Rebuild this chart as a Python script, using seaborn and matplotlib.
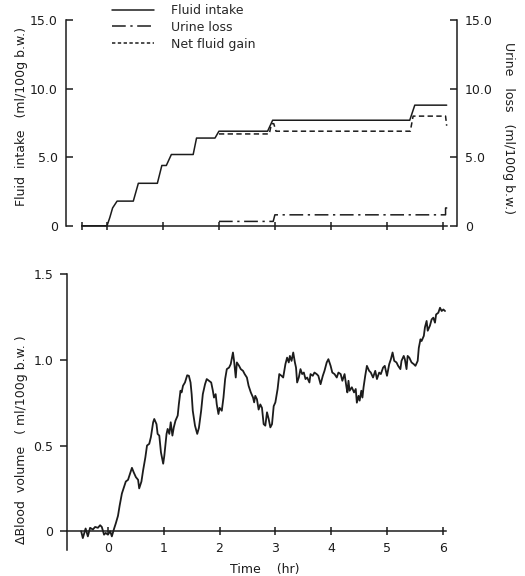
import matplotlib
matplotlib.use("Agg")
import matplotlib.pyplot as plt
import seaborn as sns
from matplotlib.lines import Line2D
from matplotlib.ticker import FuncFormatter

# --- top panel: cumulative fluid balance (ml/100g b.w.) ---
intake_time = [-0.45, 0.0, 0.05, 0.1, 0.18, 0.47, 0.56, 0.9, 0.98, 1.06, 1.15, 1.54, 1.6,
               1.93, 2.0, 2.87, 2.96, 5.41, 5.5, 6.07]
intake_value = [0, 0, 0.6, 1.3, 1.8, 1.8, 3.1, 3.1, 4.4, 4.4, 5.2, 5.2, 6.4,
                6.4, 6.9, 6.9, 7.7, 7.7, 8.8, 8.8]

gain_time = [2.0, 2.9, 2.94, 2.98, 3.02, 5.42, 5.47, 6.05, 6.07]
gain_value = [6.7, 6.7, 7.45, 7.45, 6.9, 6.9, 8.0, 8.0, 7.3]

urine_time = [2.0, 2.97, 3.0, 6.05, 6.05, 6.08]
urine_value = [0.32, 0.32, 0.8, 0.8, 1.3, 1.3]

# --- bottom panel: change in blood volume ---
bv_time = [-0.48, -0.45, -0.40, -0.36, -0.32, -0.27, -0.23, -0.18, -0.14, -0.11, -0.07, -0.04,
           0.0, 0.04, 0.07, 0.11, 0.14, 0.18, 0.21, 0.25, 0.29, 0.32, 0.36, 0.39, 0.43, 0.46,
           0.50, 0.54, 0.56, 0.60, 0.63, 0.67, 0.70, 0.74, 0.77, 0.81, 0.83, 0.87, 0.89, 0.92,
           0.95, 0.99, 1.01, 1.05,
           1.07, 1.10, 1.125, 1.155, 1.18, 1.21, 1.25, 1.27, 1.30, 1.32, 1.345, 1.38, 1.42,
           1.45, 1.48, 1.50, 1.52, 1.56, 1.60, 1.63, 1.67, 1.70, 1.74, 1.77, 1.81, 1.85, 1.88,
           1.90, 1.93, 1.95, 1.98, 2.0, 2.04, 2.07, 2.10, 2.13, 2.17, 2.2, 2.24, 2.26, 2.29,
           2.31, 2.35, 2.38, 2.42, 2.45, 2.49, 2.52, 2.56, 2.60, 2.62,
           2.64, 2.67, 2.70, 2.73, 2.76, 2.79, 2.82, 2.85, 2.88, 2.91, 2.94, 2.97, 3.0, 3.04,
           3.07, 3.11, 3.14, 3.18, 3.21, 3.24, 3.26, 3.29, 3.32, 3.35, 3.37, 3.39, 3.42, 3.45,
           3.48, 3.51, 3.54, 3.57, 3.61, 3.63, 3.67, 3.70, 3.74, 3.77, 3.81, 3.85, 3.88, 3.92,
           3.95, 3.99, 4.02, 4.06, 4.10, 4.13, 4.17, 4.2, 4.24,
           4.27, 4.29, 4.31, 4.33, 4.37, 4.41, 4.44, 4.46, 4.49, 4.51, 4.54, 4.56, 4.58, 4.61,
           4.64, 4.68, 4.71, 4.75, 4.79, 4.82, 4.86, 4.89, 4.93, 4.96, 5.0, 5.04, 5.07, 5.10,
           5.13, 5.17, 5.2, 5.24, 5.26, 5.30, 5.32, 5.35, 5.37, 5.40, 5.44, 5.48, 5.51, 5.55,
           5.57, 5.6, 5.62, 5.66, 5.68, 5.71, 5.73, 5.77, 5.80, 5.83, 5.86, 5.88, 5.92, 5.95,
           5.98, 6.01, 6.04]
bv_value = [0.0, -0.04, 0.016, -0.03, 0.02, 0.01, 0.025, 0.02, 0.035, 0.025, -0.02, -0.01,
            -0.02, 0.0, -0.03, 0.015, 0.045, 0.09, 0.15, 0.22, 0.26, 0.29, 0.30, 0.33, 0.37, 0.345,
            0.316, 0.30, 0.25, 0.29, 0.355, 0.43, 0.50, 0.51, 0.55, 0.636, 0.655, 0.625, 0.568, 0.558,
            0.46, 0.394, 0.44, 0.568,
            0.597, 0.568, 0.636, 0.558, 0.606, 0.645, 0.675, 0.74, 0.82, 0.81, 0.849, 0.868, 0.91,
            0.907, 0.868, 0.8, 0.703, 0.616, 0.568, 0.603, 0.703, 0.8, 0.858, 0.888, 0.878, 0.868, 0.82,
            0.78, 0.8, 0.74, 0.684, 0.72, 0.703, 0.78, 0.888, 0.946, 0.955, 0.975, 1.043, 0.994, 0.897,
            0.985, 0.965, 0.946, 0.936, 0.917, 0.897, 0.849, 0.81, 0.78, 0.752,
            0.79, 0.77, 0.71, 0.74, 0.72, 0.625, 0.616, 0.694, 0.655, 0.606, 0.625, 0.73, 0.752, 0.83,
            0.917, 0.907, 0.897, 0.975, 1.013, 0.985, 1.023, 0.994, 1.043, 0.985, 0.955, 0.868, 0.897, 0.946,
            0.917, 0.926, 0.888, 0.897, 0.868, 0.917, 0.907, 0.926, 0.917, 0.907, 0.858, 0.907, 0.936, 0.985,
            1.004, 0.965, 0.926, 0.917, 0.897, 0.926, 0.917, 0.878, 0.917,
            0.849, 0.81, 0.878, 0.82, 0.84, 0.81, 0.83, 0.75, 0.79, 0.762, 0.82, 0.78, 0.84, 0.907,
            0.965, 0.936, 0.926, 0.897, 0.936, 0.888, 0.926, 0.917, 0.955, 0.965, 0.907, 0.975, 1.004, 1.043,
            0.994, 0.985, 0.965, 0.946, 0.994, 1.023, 1.004, 0.946, 1.023, 1.013, 0.985, 0.975, 0.965, 0.994,
            1.07, 1.12, 1.11, 1.14, 1.19, 1.227, 1.17, 1.2, 1.236, 1.246, 1.217, 1.265, 1.275, 1.304,
            1.285, 1.294, 1.285]

hour_ticks = [0, 1, 2, 3, 4, 5, 6]

sns.set_style("white")
plt.rcParams['font.family'] = ['DejaVu Sans']
plt.rcParams['font.size'] = 9

INK = '#1c1c1c'
LW = 1.1
DASHED = (0, (3.5, 2.2))
DASHDOT = (0, (9, 3, 1.5, 3))

fig = plt.figure(figsize=(5.25, 5.76), dpi=100)
ax_top = fig.add_axes([0.126, 0.608, 0.744, 0.357])
ax_bot = fig.add_axes([0.128, 0.045, 0.742, 0.479])
XLIM = (-0.73, 6.25)


def zero_fmt(v, pos):
    return '0' if abs(v) < 1e-9 else f'{v:.1f}'


# top panel
sns.lineplot(x=intake_time, y=intake_value, ax=ax_top, color=INK, lw=LW,
             estimator=None, sort=False, legend=False)
sns.lineplot(x=gain_time, y=gain_value, ax=ax_top, color=INK, lw=LW,
             estimator=None, sort=False, legend=False)
ax_top.lines[-1].set_linestyle(DASHED)
for ln in ax_top.lines:
    ln.set_clip_on(False)

ax_r = ax_top.twinx()
sns.lineplot(x=urine_time, y=urine_value, ax=ax_r, color=INK, lw=LW,
             estimator=None, sort=False, legend=False)
ax_r.lines[-1].set_linestyle(DASHDOT)

for a in (ax_top, ax_r):
    a.set_xlim(*XLIM)
    a.set_ylim(0, 15)
    a.set_xlabel('')
    a.set_ylabel('')
    a.patch.set_visible(False)
    for s in a.spines.values():
        s.set_color(INK)
        s.set_linewidth(1.1)

ax_top.spines['top'].set_visible(False)
ax_top.spines['right'].set_visible(False)
ax_top.spines['bottom'].set_bounds(-0.45, 6.07)
ax_top.set_xticks([-0.45] + hour_ticks)
ax_top.tick_params(axis='x', direction='inout', length=6, width=1.1, colors=INK,
                   bottom=True, labelbottom=False)
ax_top.set_yticks([0, 5, 10, 15])
ax_top.yaxis.set_major_formatter(FuncFormatter(zero_fmt))
ax_top.tick_params(axis='y', direction='in', length=5, width=1.1, colors=INK,
                   labelsize=9, pad=6, left=True)

for side in ('top', 'left', 'bottom'):
    ax_r.spines[side].set_visible(False)
ax_r.set_yticks([0, 5, 10, 15])
ax_r.yaxis.set_major_formatter(FuncFormatter(zero_fmt))
ax_r.tick_params(axis='y', direction='in', length=5, width=1.1, colors=INK,
                 labelsize=9, pad=6, right=True)
ax_r.tick_params(axis='x', bottom=False, labelbottom=False)

handles = [Line2D([], [], color=INK, lw=LW),
           Line2D([], [], color=INK, lw=LW, linestyle=DASHDOT),
           Line2D([], [], color=INK, lw=LW, linestyle=(0, (2.2, 1.6)))]
fig.legend(handles, ['Fluid intake', 'Urine loss', 'Net fluid gain'],
           loc='upper left', bbox_to_anchor=(0.213, 0.993), frameon=False,
           fontsize=9, handlelength=3.4, handletextpad=1.3, labelspacing=0.3,
           borderpad=0, borderaxespad=0)

# bottom panel
sns.lineplot(x=bv_time, y=bv_value, ax=ax_bot, color=INK, lw=1.3,
             estimator=None, sort=False, legend=False)
ax_bot.set_xlim(*XLIM)
ax_bot.set_ylim(-0.11, 1.5)
ax_bot.set_xlabel('')
ax_bot.set_ylabel('')
ax_bot.patch.set_visible(False)
ax_bot.spines['top'].set_visible(False)
ax_bot.spines['right'].set_visible(False)
ax_bot.spines['bottom'].set_position(('data', 0))
ax_bot.spines['bottom'].set_bounds(XLIM[0], 6.05)
for s in ax_bot.spines.values():
    s.set_color(INK)
    s.set_linewidth(1.1)
ax_bot.set_xticks(hour_ticks)
ax_bot.set_yticks([0, 0.5, 1.0, 1.5])
ax_bot.yaxis.set_major_formatter(FuncFormatter(zero_fmt))
ax_bot.tick_params(axis='x', direction='inout', length=6, width=1.1, colors=INK,
                   labelsize=9, pad=5, bottom=True)
ax_bot.tick_params(axis='y', direction='out', length=5, width=1.1, colors=INK,
                   labelsize=9, pad=5, left=True)

# axis titles
fig.text(22 / 525, 1 - 117 / 576, 'Fluid  intake   (ml/100g b.w.)', rotation=90,
         ha='center', va='center', fontsize=9, color=INK)
fig.text(509 / 525, 1 - 128 / 576, 'Urine   loss   (ml/100g b.w.)', rotation=270,
         ha='center', va='center', fontsize=9, color=INK)
fig.text(22 / 525, 1 - 440 / 576, '\u0394Blood  volume   ( ml/100g b.w. )', rotation=90,
         ha='center', va='center', fontsize=9, color=INK)
fig.text(265 / 525, 1 - 570 / 576, 'Time    (hr)', ha='center', va='center',
         fontsize=9, color=INK)

fig.savefig('out.png', dpi=100)
